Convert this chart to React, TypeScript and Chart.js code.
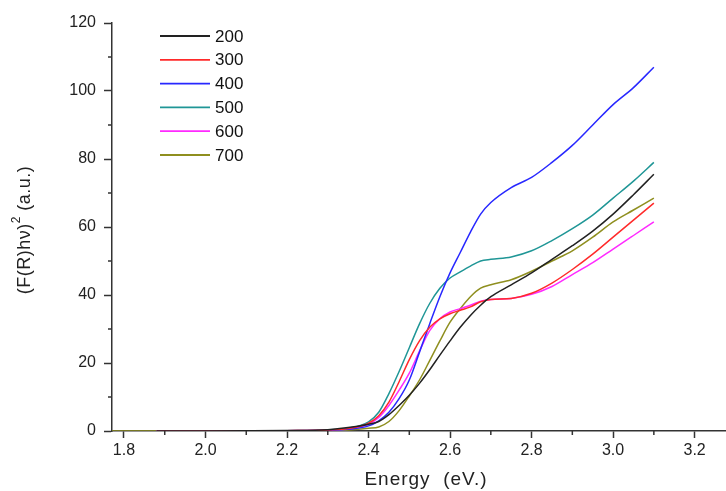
import React, { useEffect, useRef } from "react";
import { Chart, registerables } from "chart.js";

Chart.register(...registerables);

const energy = [1.77, 1.88, 2.0, 2.1, 2.2, 2.3, 2.35, 2.4, 2.425, 2.45, 2.475, 2.5, 2.525, 2.55, 2.575, 2.6, 2.625, 2.65, 2.675, 2.7, 2.75, 2.8, 2.85, 2.9, 2.95, 3.0, 3.05, 3.1];

const s200 = [null, 0, 0, 0.05, 0.15, 0.4, 1, 2, 2.8, 4.8, 7.5, 10.5, 14, 18, 22.3, 26.5, 30.5, 34, 37, 39.5, 43, 46.5, 50.5, 54.5, 58.8, 63.8, 69.5, 75.5];
const s300 = [null, 0, 0, 0, 0.1, 0.3, 0.7, 2.3, 4.5, 8.5, 14.5, 21, 26.5, 30.5, 33, 34.5, 35.5, 36.5, 38, 38.7, 39, 40.5, 43.5, 47.5, 52, 57, 62, 67];
const s400 = [null, 0, 0, 0, 0.05, 0.2, 0.5, 1.5, 3, 5.5, 9.5, 15, 23.2, 31.5, 39.5, 46.5, 52.5, 58.5, 63.8, 67.2, 71.6, 74.6, 79, 84, 90, 96, 101, 107];
const s500 = [null, 0, 0, 0, 0.1, 0.3, 0.8, 2.7, 5.5, 11, 17.5, 24.5, 31.5, 37.5, 42, 45, 46.8, 48.5, 50, 50.5, 51.2, 53, 56, 59.5, 63.5, 68.5, 73.5, 79];
const s600 = [null, 0, 0, 0, 0.1, 0.3, 0.6, 2, 4, 7.5, 12, 17, 23.5, 29.5, 33, 35, 36, 37, 38.2, 38.7, 39, 40.2, 42.5, 46, 49.5, 53.5, 57.5, 61.5];
const s700 = [0, 0, 0, 0, 0.03, 0.1, 0.3, 0.8, 1.2, 2.8, 6, 10.3, 15, 20.7, 26.5, 32, 36, 39.5, 42, 43, 44.5, 47, 50, 53, 57, 61.5, 65, 68.5];

const seriesLabels = ["200", "300", "400", "500", "600", "700"];
const seriesValues = [s200, s300, s400, s500, s600, s700];
const seriesColors = ["#222222", "#ff2a2a", "#2828ff", "#1f9696", "#ff2aff", "#8f8f1f"];

const xMajorTicks = [1.8, 2.0, 2.2, 2.4, 2.6, 2.8, 3.0, 3.2];
const xMinorTicks = [1.9, 2.1, 2.3, 2.5, 2.7, 2.9, 3.1];
const yMajorTicks = [0, 20, 40, 60, 80, 100, 120];
const yMinorTicks = [10, 30, 50, 70, 90, 110];

const xTitle = "Energy  (eV.)";
const yTitleMain = "(F(R)hν)";
const yTitleSup = "2";
const yTitleTail = " (a.u.)";

const FONT = "'Liberation Sans', Arial, sans-serif";
const AXIS_COLOR = "#333333";
const TEXT_COLOR = "#222222";

const minorTicksPlugin = {
  id: "minorTicks",
  afterDraw(chart: any) {
    const ctx = chart.ctx;
    const xs = chart.scales.x;
    const ys = chart.scales.y;
    const area = chart.chartArea;
    ctx.save();
    ctx.strokeStyle = AXIS_COLOR;
    ctx.lineWidth = 1.5;
    ctx.beginPath();
    xMinorTicks.forEach((v) => {
      const px = xs.getPixelForValue(v);
      ctx.moveTo(px, area.bottom);
      ctx.lineTo(px, area.bottom + 4);
    });
    yMinorTicks.forEach((v) => {
      const py = ys.getPixelForValue(v);
      ctx.moveTo(area.left, py);
      ctx.lineTo(area.left - 4, py);
    });
    ctx.stroke();
    ctx.restore();
  },
};

const titlesPlugin = {
  id: "axisTitles",
  afterDraw(chart: any) {
    const ctx = chart.ctx;
    ctx.save();
    ctx.fillStyle = TEXT_COLOR;
    ctx.textBaseline = "middle";
    // x title
    ctx.font = `19px ${FONT}`;
    (ctx as any).letterSpacing = "1px";
    ctx.textAlign = "center";
    ctx.fillText(xTitle, 426, 480);
    // y title (rotated)
    ctx.translate(25, 230);
    ctx.rotate(-Math.PI / 2);
    (ctx as any).letterSpacing = "0.5px";
    ctx.font = `18px ${FONT}`;
    const wMain = ctx.measureText(yTitleMain).width;
    ctx.font = `12px ${FONT}`;
    const wSup = ctx.measureText(yTitleSup).width;
    ctx.font = `18px ${FONT}`;
    const wTail = ctx.measureText(yTitleTail).width;
    const total = wMain + wSup + wTail;
    let x = -total / 2;
    ctx.textAlign = "left";
    ctx.fillText(yTitleMain, x, 0);
    x += wMain;
    ctx.font = `12px ${FONT}`;
    ctx.fillText(yTitleSup, x, -8);
    x += wSup;
    ctx.font = `18px ${FONT}`;
    ctx.fillText(yTitleTail, x, 0);
    ctx.restore();
  },
};

const legendPlugin = {
  id: "insideLegend",
  afterDraw(chart: any) {
    const ctx = chart.ctx;
    ctx.save();
    ctx.font = `17px ${FONT}`;
    ctx.textBaseline = "middle";
    ctx.textAlign = "left";
    chart.data.datasets.forEach((ds: any, i: number) => {
      const y = 36 + i * 23.8;
      ctx.strokeStyle = ds.borderColor;
      ctx.lineWidth = 1.8;
      ctx.beginPath();
      ctx.moveTo(160, y);
      ctx.lineTo(210, y);
      ctx.stroke();
      ctx.fillStyle = "#111111";
      ctx.fillText(ds.label, 215, y + 1);
    });
    ctx.restore();
  },
};

export default function App() {
  const canvasRef = useRef<HTMLCanvasElement | null>(null);

  useEffect(() => {
    document.body.style.margin = "0";
    const canvas = canvasRef.current;
    if (!canvas) return;
    const chart = new Chart(canvas, {
      type: "line",
      data: {
        datasets: seriesLabels.map((label, i) => ({
          label,
          data: energy.map((e, j) => ({ x: e, y: seriesValues[i][j] as any })),
          borderColor: seriesColors[i],
          backgroundColor: seriesColors[i],
          borderWidth: 1.5,
          pointRadius: 0,
          cubicInterpolationMode: "monotone" as const,
          fill: false,
        })),
      },
      options: {
        animation: false,
        responsive: false,
        maintainAspectRatio: false,
        layout: { padding: { top: 23, right: 0, left: 0, bottom: 0 } },
        plugins: {
          legend: { display: false },
          tooltip: { enabled: false },
        },
        scales: {
          x: {
            type: "linear",
            min: 1.7706,
            max: 3.277,
            afterBuildTicks: (scale: any) => {
              scale.ticks = xMajorTicks.map((v) => ({ value: v }));
            },
            afterFit: (scale: any) => {
              scale.height = 60;
            },
            grid: {
              drawOnChartArea: false,
              drawTicks: true,
              tickLength: 7,
              tickColor: AXIS_COLOR,
              tickWidth: 1.5,
            },
            border: { display: true, color: AXIS_COLOR, width: 1.5 },
            ticks: {
              padding: 3,
              color: TEXT_COLOR,
              font: { family: FONT, size: 16 },
              maxRotation: 0,
              callback: (v: any) => Number(v).toFixed(1),
            },
          },
          y: {
            type: "linear",
            min: 0,
            max: 120,
            afterBuildTicks: (scale: any) => {
              scale.ticks = yMajorTicks.map((v) => ({ value: v }));
            },
            afterFit: (scale: any) => {
              scale.width = 112;
            },
            grid: {
              drawOnChartArea: false,
              drawTicks: true,
              tickLength: 8,
              tickColor: AXIS_COLOR,
              tickWidth: 1.5,
            },
            border: { display: true, color: AXIS_COLOR, width: 1.5 },
            ticks: {
              padding: 8,
              color: TEXT_COLOR,
              font: { family: FONT, size: 16 },
            },
          },
        },
      },
      plugins: [minorTicksPlugin, legendPlugin, titlesPlugin],
    });
    return () => chart.destroy();
  }, []);

  return (
    <div style={{ position: "absolute", left: 0, top: 0, width: 726, height: 491 }}>
      <canvas ref={canvasRef} width={726} height={491} style={{ width: 726, height: 491 }} />
    </div>
  );
}
